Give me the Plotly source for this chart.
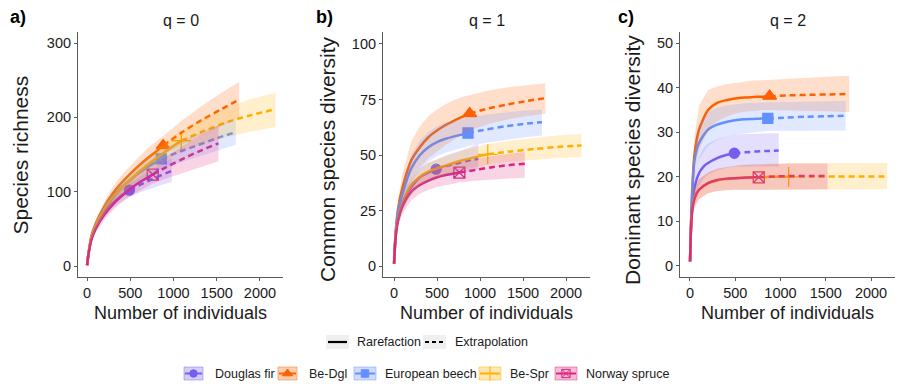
import plotly.graph_objects as go

W, H = 918, 384

species = ["Douglas fir", "Be-Dgl", "European beech", "Be-Spr", "Norway spruce"]
colors = ["#785EF0", "#FE6100", "#648FFF", "#FFB000", "#DC267F"]
symbols = ["circle", "triangle-up", "square", "cross-thin-open", "square-x-open"]
msizes = [10, 12, 10, 14, 11]

x_ticks = [0, 500, 1000, 1500, 2000]
panel_labels = ["a)", "b)", "c)"]
q_titles = ["q = 0", "q = 1", "q = 2"]
y_titles = ["Species richness", "Common species diversity", "Dominant species diversity"]
x_title = "Number of individuals"
y_ticks = [[0, 100, 200, 300], [0, 25, 50, 75, 100], [0, 10, 20, 30, 40, 50]]
method_labels = ["Rarefaction", "Extrapolation"]

# ---- Douglas fir ----
dgf_x_rare = [1, 10, 25, 50, 100, 150, 200, 300, 400, 490]
dgf_x_ext = [490, 610, 735, 855, 980]
dgf_q0_rare = [1, 10, 22, 36, 52, 63, 72, 85, 95, 102]
dgf_q0_ext = [102, 109, 116, 122, 128]
dgf_q0_lo = [1, 9, 20, 33, 48, 58, 66, 78, 87, 93, 99, 104, 109, 113]
dgf_q0_hi = [1, 11, 24, 39, 56, 68, 78, 92, 103, 111, 119, 128, 137, 145]
dgf_q1_rare = [1, 8.5, 16, 22, 28, 32.5, 35.5, 40, 42.2, 43.6]
dgf_q1_ext = [43.6, 45, 46.3, 47.4, 48.3]
dgf_q1_lo = [1, 8, 14.5, 20, 25, 29, 32, 36, 38, 39.5, 40.5, 41.5, 42.5, 43.5]
dgf_q1_hi = [1, 9, 17.5, 24, 31, 36, 39, 44, 46.5, 48, 50, 51.5, 53, 55]
dgf_q2_rare = [1, 7.5, 13, 17.5, 20.8, 22.3, 23.1, 24.2, 24.9, 25.3]
dgf_q2_ext = [25.3, 25.5, 25.7, 25.8, 25.9]
dgf_q2_lo = [1, 7, 11, 15, 18, 19.5, 20.5, 21.5, 22, 22.3, 22.3, 22.3, 22.3, 22.3]
dgf_q2_hi = [1, 8, 15, 20.5, 24.5, 26.5, 27.5, 28.5, 29, 29.5, 29.6, 29.7, 29.8, 29.8]

# ---- Be-Dgl ----
bdg_x_rare = [1, 10, 25, 50, 100, 200, 300, 400, 500, 600, 700, 800, 880]
bdg_x_ext = [880, 1100, 1320, 1540, 1760]
bdg_q0_rare = [1, 10, 23, 40, 57, 80, 98, 112, 124, 135, 145, 154, 162]
bdg_q0_ext = [162, 180, 196, 210, 224]
bdg_q0_lo = [1, 9, 21, 37, 52, 73, 89, 102, 113, 123, 132, 141, 149, 163, 176, 188, 200]
bdg_q0_hi = [1, 11, 25, 43, 62, 87, 107, 122, 135, 147, 158, 167, 175, 196, 215, 232, 248]
bdg_q1_rare = [1, 9, 18, 26.5, 35.5, 47.5, 53.5, 58, 61, 63.5, 65.5, 67.3, 68.7]
bdg_q1_ext = [68.7, 71, 72.8, 74.3, 75.6]
bdg_q1_lo = [1, 8, 15.5, 22, 29, 39, 44.5, 48.5, 51.5, 54.5, 57, 59.3, 61, 64, 66, 67.5, 68.6]
bdg_q1_hi = [1, 10, 20.5, 31, 42, 56, 63, 67.5, 70.5, 73, 74.8, 76.2, 77, 79, 80.5, 81.5, 82.3]
bdg_q2_rare = [1, 8.5, 17, 25, 30.6, 35, 36.6, 37.2, 37.6, 37.8, 37.9, 38, 38.1]
bdg_q2_ext = [38.1, 38.3, 38.4, 38.5, 38.6]
bdg_q2_lo = [1, 7.5, 14.5, 21, 26, 30.5, 32.5, 33.5, 34.2, 34.6, 34.8, 35, 35, 34.9, 34.8, 34.7, 34.5]
bdg_q2_hi = [1, 9.5, 19.5, 29, 36, 39.5, 40.3, 40.8, 41.1, 41.4, 41.6, 41.7, 41.8, 42.1, 42.3, 42.5, 42.7]

# ---- European beech ----
eub_x_rare = [1, 10, 25, 50, 100, 200, 300, 400, 500, 600, 700, 800, 860]
eub_x_ext = [860, 1075, 1290, 1505, 1720]
eub_q0_rare = [1, 10, 22, 38, 55, 77, 93, 106, 116, 125, 133, 140, 144]
eub_q0_ext = [144, 154, 163, 172, 180]
eub_q0_lo = [1, 9, 20, 35, 50, 70, 85, 97, 106, 114, 121, 127, 131, 139, 147, 155, 163]
eub_q0_hi = [1, 11, 24, 41, 60, 84, 101, 115, 126, 136, 145, 153, 157, 168, 179, 189, 198]
eub_q1_rare = [1, 9, 17.5, 25, 32.6, 43.9, 49.9, 53.5, 55.8, 57.3, 58.4, 59.3, 59.9]
eub_q1_ext = [59.9, 61.5, 62.9, 64, 64.8]
eub_q1_lo = [1, 8, 15.5, 21.5, 28, 38, 43.5, 47, 49.5, 51, 52.2, 53.3, 54, 55.5, 56.8, 57.9, 58.8]
eub_q1_hi = [1, 10, 19.5, 28.5, 37.5, 50, 56.5, 60.5, 63, 64.5, 65.5, 66.5, 67, 68.2, 69.2, 70, 70.5]
eub_q2_rare = [1, 8.5, 16.5, 23.8, 27.6, 30.6, 31.7, 32.3, 32.7, 32.9, 33, 33.1, 33.1]
eub_q2_ext = [33.1, 33.3, 33.5, 33.6, 33.7]
eub_q2_lo = [1, 7.5, 14, 20.5, 24, 27, 28.3, 29, 29.5, 29.8, 30, 30.2, 30.3, 30.3, 30.4, 30.4, 30.4]
eub_q2_hi = [1, 9.5, 19, 27, 31.5, 34.5, 35.5, 36, 36.3, 36.5, 36.6, 36.7, 36.7, 36.8, 36.9, 37, 37]

# ---- Be-Spr ----
bsp_x_rare = [1, 10, 25, 50, 100, 200, 300, 400, 500, 600, 700, 800, 900, 1000, 1090]
bsp_x_ext = [1090, 1360, 1630, 1900, 2180]
bsp_q0_rare = [1, 10, 22, 37, 54, 76, 92, 105, 116, 126.5, 136, 145, 153.5, 161.5, 168.5]
bsp_q0_ext = [168.5, 182, 194, 203, 211]
bsp_q0_lo = [1, 9, 20, 34, 49, 69, 84, 96, 106, 115, 124, 132, 140, 148, 155, 165, 174, 181, 187]
bsp_q0_hi = [1, 11, 24, 40, 59, 83, 100, 114, 126, 137, 147, 157, 166, 175, 182, 200, 214, 225, 233]
bsp_q1_rare = [1, 8.5, 16, 21.5, 28.1, 36.4, 40.1, 42.5, 43.9, 45.2, 46.5, 47.6, 48.6, 49.5, 50.3]
bsp_q1_ext = [50.3, 51.6, 52.7, 53.6, 54.3]
bsp_q1_lo = [1, 7.5, 14.5, 19.5, 25.5, 33, 36.5, 38.5, 40, 41.2, 42.3, 43.3, 44.2, 45, 45.7, 47, 47.9, 48.6, 49.1]
bsp_q1_hi = [1, 9.5, 17.5, 23.5, 30.7, 39.8, 43.7, 46.5, 48, 49.3, 50.7, 51.9, 53, 54, 54.9, 56.5, 57.8, 58.8, 59.6]
bsp_q2_rare = [1, 7.5, 12.5, 15.5, 17.1, 18.6, 19.2, 19.5, 19.7, 19.8, 19.9, 19.9, 20, 20, 20]
bsp_q2_ext = [20, 20.1, 20.1, 20.1, 20.1]
bsp_q2_lo = [1, 6.5, 11, 13.5, 15, 16.3, 16.8, 17, 17.1, 17.2, 17.2, 17.2, 17.2, 17.2, 17.2, 17.2, 17.2, 17.2, 17.2]
bsp_q2_hi = [1, 8.5, 14, 17.5, 19.5, 21, 21.8, 22.2, 22.5, 22.7, 22.8, 22.9, 23, 23, 23.1, 23.1, 23.1, 23.1, 23.1]

# ---- Norway spruce ----
nsp_x_rare = [1, 10, 25, 50, 100, 200, 300, 400, 500, 600, 700, 760]
nsp_x_ext = [760, 950, 1140, 1330, 1520]
nsp_q0_rare = [1, 10, 21, 35, 50, 69, 83, 94, 104, 112, 119, 123]
nsp_q0_ext = [123, 135, 146, 156, 165]
nsp_q0_lo = [1, 9, 19, 32, 45, 62, 75, 85, 94, 101, 107, 111, 119, 127, 134, 141]
nsp_q0_hi = [1, 11, 23, 38, 55, 76, 91, 103, 114, 123, 131, 135, 150, 164, 177, 189]
nsp_q1_rare = [1, 8, 15, 21, 27, 33.5, 36.5, 38.5, 40, 41, 41.7, 42.1]
nsp_q1_ext = [42.1, 43.3, 44.5, 45.4, 46.1]
nsp_q1_lo = [1, 7, 13, 18.5, 23.5, 29.5, 32.5, 34.3, 35.6, 36.5, 37.2, 37.6, 38.4, 39, 39.4, 39.7]
nsp_q1_hi = [1, 9, 17, 23.5, 30.5, 37.5, 40.5, 42.7, 44.4, 45.5, 46.2, 46.6, 48.3, 49.6, 50.6, 51.3]
nsp_q2_rare = [1, 7.5, 12.5, 15, 17.1, 18.6, 19.3, 19.6, 19.7, 19.8, 19.9, 19.9]
nsp_q2_ext = [19.9, 20.1, 20.2, 20.2, 20.2]
nsp_q2_lo = [1, 6.5, 11, 13, 15, 16.3, 16.8, 17, 17.1, 17.2, 17.2, 17.2, 17.2, 17.2, 17.2, 17.2]
nsp_q2_hi = [1, 8.5, 14, 17.5, 19.5, 21, 21.8, 22.2, 22.5, 22.7, 22.8, 22.8, 22.9, 23, 23, 23]

# assemble (species order = factor order)
data = [
    (dgf_x_rare, dgf_x_ext, [(dgf_q0_rare, dgf_q0_ext, dgf_q0_lo, dgf_q0_hi),
                             (dgf_q1_rare, dgf_q1_ext, dgf_q1_lo, dgf_q1_hi),
                             (dgf_q2_rare, dgf_q2_ext, dgf_q2_lo, dgf_q2_hi)]),
    (bdg_x_rare, bdg_x_ext, [(bdg_q0_rare, bdg_q0_ext, bdg_q0_lo, bdg_q0_hi),
                             (bdg_q1_rare, bdg_q1_ext, bdg_q1_lo, bdg_q1_hi),
                             (bdg_q2_rare, bdg_q2_ext, bdg_q2_lo, bdg_q2_hi)]),
    (eub_x_rare, eub_x_ext, [(eub_q0_rare, eub_q0_ext, eub_q0_lo, eub_q0_hi),
                             (eub_q1_rare, eub_q1_ext, eub_q1_lo, eub_q1_hi),
                             (eub_q2_rare, eub_q2_ext, eub_q2_lo, eub_q2_hi)]),
    (bsp_x_rare, bsp_x_ext, [(bsp_q0_rare, bsp_q0_ext, bsp_q0_lo, bsp_q0_hi),
                             (bsp_q1_rare, bsp_q1_ext, bsp_q1_lo, bsp_q1_hi),
                             (bsp_q2_rare, bsp_q2_ext, bsp_q2_lo, bsp_q2_hi)]),
    (nsp_x_rare, nsp_x_ext, [(nsp_q0_rare, nsp_q0_ext, nsp_q0_lo, nsp_q0_hi),
                             (nsp_q1_rare, nsp_q1_ext, nsp_q1_lo, nsp_q1_hi),
                             (nsp_q2_rare, nsp_q2_ext, nsp_q2_lo, nsp_q2_hi)]),
]


def rgba(h, a):
    h = h.lstrip("#")
    return "rgba(%d,%d,%d,%.3f)" % (int(h[0:2], 16), int(h[2:4], 16), int(h[4:6], 16), a)


FONT = "Liberation Sans, Arial, sans-serif"
TXT = "#1a1a1a"
AX = "#5a5a5a"

fig = go.Figure()

# panel pixel boxes (left, right) and y top/bottom
px_boxes = [(78, 283), (383, 590), (680, 895)]
py_top, py_bot = 32, 277
x_ranges = [[-104, 2266], [-128, 2279], [-110, 2265]]
y_ranges = [[-14.8, 314.8], [-4.95, 105.4], [-2.47, 52.5]]

for p in range(3):
    xa = "x" if p == 0 else "x%d" % (p + 1)
    ya = "y" if p == 0 else "y%d" % (p + 1)
    # points
    for s in range(5):
        xr, xe, qs = data[s]
        rare, ext, lo, hi = qs[p]
        fig.add_trace(go.Scatter(
            x=[xr[-1]], y=[rare[-1]], xaxis=xa, yaxis=ya, mode="markers",
            marker=dict(symbol=symbols[s], size=msizes[s], color=colors[s],
                        line=dict(color=colors[s], width=1.3)),
            showlegend=False, hoverinfo="skip"))
    # lines
    for s in range(5):
        xr, xe, qs = data[s]
        rare, ext, lo, hi = qs[p]
        fig.add_trace(go.Scatter(
            x=xr, y=rare, xaxis=xa, yaxis=ya, mode="lines",
            line=dict(color=colors[s], width=2.5, shape="spline", smoothing=0.7),
            showlegend=False, hoverinfo="skip"))
        fig.add_trace(go.Scatter(
            x=xe, y=ext, xaxis=xa, yaxis=ya, mode="lines",
            line=dict(color=colors[s], width=2.5, dash="6px,4px", shape="spline", smoothing=0.7),
            showlegend=False, hoverinfo="skip"))
    # ribbons
    for s in range(5):
        xr, xe, qs = data[s]
        rare, ext, lo, hi = qs[p]
        xs = list(xr) + list(xe[1:])
        assert len(xs) == len(lo) == len(hi), (s, p)
        fig.add_trace(go.Scatter(
            x=xs + xs[::-1], y=list(hi) + list(lo)[::-1], xaxis=xa, yaxis=ya,
            mode="lines", fill="toself", fillcolor=rgba(colors[s], 0.2),
            line=dict(width=0, color="rgba(0,0,0,0)"),
            showlegend=False, hoverinfo="skip"))

# axes
for p in range(3):
    l, r = px_boxes[p]
    sx = "" if p == 0 else str(p + 1)
    common = dict(showline=True, linecolor=AX, linewidth=1.1, ticks="outside",
                  ticklen=3, tickwidth=1.1, tickcolor=AX, showgrid=False,
                  zeroline=False, tickfont=dict(family=FONT, size=14.5, color=TXT))
    fig.layout["xaxis" + sx] = dict(domain=[l / W, r / W], range=x_ranges[p],
                                    tickvals=x_ticks, anchor="y" + sx, **common)
    fig.layout["yaxis" + sx] = dict(domain=[(H - py_bot) / H, (H - py_top) / H],
                                    range=y_ranges[p], tickvals=y_ticks[p],
                                    anchor="x" + sx, **common)

# overlay axis in pixel units for titles / legend
fig.update_layout(
    xaxis4=dict(domain=[0, 1], range=[0, W], visible=False, fixedrange=True, anchor="y4"),
    yaxis4=dict(domain=[0, 1], range=[H, 0], visible=False, fixedrange=True, anchor="x4"),
)

ann = []
title_pos = [(180.5, 20), (486.5, 20), (787.5, 20)]
label_pos = [(8, 17), (314, 17), (616, 17)]
ytitle_pos = [(19.5, 155), (327, 159), (632, 160)]
for p in range(3):
    l, r = px_boxes[p]
    ann.append(dict(x=title_pos[p][0], y=title_pos[p][1], text=q_titles[p], xref="x4", yref="y4",
                    showarrow=False, font=dict(family=FONT, size=16, color=TXT),
                    xanchor="center", yanchor="middle"))
    ann.append(dict(x=label_pos[p][0], y=label_pos[p][1], text="<b>%s</b>" % panel_labels[p],
                    xref="x4", yref="y4", showarrow=False,
                    font=dict(family=FONT, size=18, color="#000"),
                    xanchor="left", yanchor="middle"))
    ann.append(dict(x=(l + r) / 2, y=312.5, text=x_title, xref="x4", yref="y4", showarrow=False,
                    font=dict(family=FONT, size=18, color=TXT), xanchor="center", yanchor="middle"))
    ann.append(dict(x=ytitle_pos[p][0], y=ytitle_pos[p][1], text=y_titles[p], xref="x4", yref="y4",
                    showarrow=False, textangle=-90,
                    font=dict(family=FONT, size=21, color=TXT), xanchor="center", yanchor="middle"))

shapes = []
# legend row 1 (line type)
row1_y = 342
row1_keys = [(326, 349), (423, 446)]
row1_text = [355, 452.5]
for i in range(2):
    a, b = row1_keys[i]
    shapes.append(dict(type="rect", xref="x4", yref="y4", x0=a, x1=b, y0=row1_y - 7, y1=row1_y + 7,
                       fillcolor="#efefef", line=dict(width=0), layer="above"))
    shapes.append(dict(type="line", xref="x4", yref="y4", x0=a + 2, x1=b - 2, y0=row1_y, y1=row1_y,
                       line=dict(color="#000", width=2.2, dash="solid" if i == 0 else "4px,3px"),
                       layer="above"))
    ann.append(dict(x=row1_text[i], y=row1_y, text=method_labels[i], xref="x4", yref="y4",
                    showarrow=False, font=dict(family=FONT, size=12.5, color=TXT),
                    xanchor="left", yanchor="middle"))

# legend row 2 (species)
row2_y = 373.5
row2_keys = [(184, 203), (278, 297), (354, 376), (479, 501), (555, 577)]
row2_text = [213, 307, 382.5, 508, 584]
for s in range(5):
    a, b = row2_keys[s]
    shapes.append(dict(type="rect", xref="x4", yref="y4", x0=a, x1=b, y0=row2_y - 6.5, y1=row2_y + 6.5,
                       fillcolor=rgba(colors[s], 0.3), line=dict(color=rgba(colors[s], 0.45), width=1),
                       layer="above"))
    shapes.append(dict(type="line", xref="x4", yref="y4", x0=a + 1, x1=b - 1, y0=row2_y, y1=row2_y,
                       line=dict(color=colors[s], width=2), layer="above"))
    fig.add_trace(go.Scatter(
        x=[(a + b) / 2], y=[row2_y], xaxis="x4", yaxis="y4", mode="markers",
        marker=dict(symbol=symbols[s], size=msizes[s] * 0.75, color=colors[s],
                    line=dict(color=colors[s], width=1)),
        showlegend=False, hoverinfo="skip"))
    ann.append(dict(x=row2_text[s], y=row2_y, text=species[s], xref="x4", yref="y4",
                    showarrow=False, font=dict(family=FONT, size=12.5, color=TXT),
                    xanchor="left", yanchor="middle"))

fig.update_layout(
    width=W, height=H, margin=dict(l=0, r=0, t=0, b=0),
    paper_bgcolor="white", plot_bgcolor="rgba(0,0,0,0)",
    showlegend=False, annotations=ann, shapes=shapes,
    font=dict(family=FONT, color=TXT),
)

fig.write_html("out.html", config={"displayModeBar": False},
               post_script="document.body.style.margin='0';")
